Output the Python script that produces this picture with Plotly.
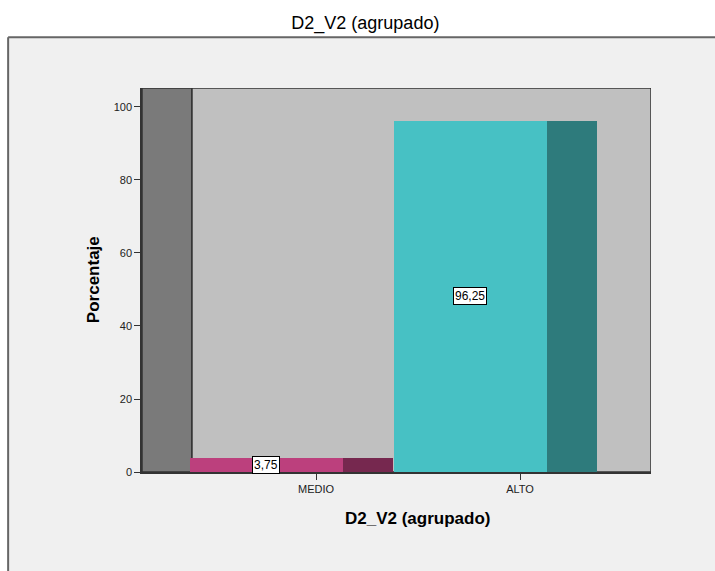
import plotly.graph_objects as go

# data
categories = ["MEDIO", "ALTO"]
percent = [3.75, 96.25]
labels = ["3,75", "96,25"]
front_colors = ["#bc407d", "#47c1c4"]
side_colors = ["#76284f", "#2e7b7c"]

# pseudo-3d geometry (in category units)
depth = 0.245
front_w = 0.752
front_start = -0.62
x_min, x_max = -0.853, 1.642
y_max = 105.2

xs = list(range(len(categories)))
front_x = [i + front_start + front_w / 2 for i in xs]
side_x = [i + front_start + front_w + depth / 2 for i in xs]

fig = go.Figure()
fig.add_trace(go.Bar(x=front_x, y=percent, width=front_w,
                     marker=dict(color=front_colors, line_width=0),
                     hoverinfo="skip", showlegend=False))
fig.add_trace(go.Bar(x=side_x, y=percent, width=depth,
                     marker=dict(color=side_colors, line_width=0),
                     hoverinfo="skip", showlegend=False))

# grey panel behind the chart (only top and left borders are visible)
px0, py1 = -0.263, 1.132
fig.add_shape(type="rect", xref="paper", yref="paper",
              x0=px0, x1=1.2, y0=-0.3, y1=py1,
              fillcolor="#f0f0f0", line_width=0, layer="below")
fig.add_shape(type="line", xref="paper", yref="paper", x0=px0, x1=1.2, y0=py1, y1=py1,
              line=dict(color="#666666", width=2), layer="below")
fig.add_shape(type="line", xref="paper", yref="paper", x0=px0, x1=px0, y0=-0.3, y1=py1,
              line=dict(color="#666666", width=2), layer="below")
# side wall and back wall
fig.add_shape(type="rect", xref="x", yref="y", x0=x_min, x1=x_min + depth, y0=0, y1=y_max,
              fillcolor="#7a7a7a", line=dict(color="#333333", width=1.5), layer="below")
fig.add_shape(type="rect", xref="x", yref="y", x0=x_min + depth, x1=x_max, y0=0, y1=y_max,
              fillcolor="#c0c0c0", line=dict(color="#333333", width=1.5), layer="below")

for fx, v, t in zip(front_x, percent, labels):
    fig.add_annotation(x=fx, y=v / 2, text=t, showarrow=False,
                       font=dict(size=12, color="#000000", family="Liberation Sans"),
                       bgcolor="white", bordercolor="#000000", borderwidth=1, borderpad=1)

fig.add_annotation(xref="paper", yref="paper", x=0.542, y=-0.12, xanchor="center", yanchor="middle",
                   text="<b>D2_V2 (agrupado)</b>", showarrow=False,
                   font=dict(size=17, color="#000000", family="Liberation Sans"))
fig.add_annotation(xref="paper", yref="paper", x=-0.096, y=0.5, xanchor="center", yanchor="middle",
                   text="<b>Porcentaje</b>", textangle=-90, showarrow=False,
                   font=dict(size=17, color="#000000", family="Liberation Sans"))

fig.update_layout(
    width=715, height=571,
    margin=dict(l=142, r=64, t=88, b=99),
    paper_bgcolor="white", plot_bgcolor="rgba(0,0,0,0)",
    barmode="overlay", bargap=0,
    title=dict(text="D2_V2 (agrupado)", x=0.511, xanchor="center", y=0.961, yanchor="middle",
               font=dict(size=18, color="#000000", family="Liberation Sans")),
    font=dict(family="Liberation Sans", size=11, color="#222222"),
)
fig.update_xaxes(range=[x_min, x_max], tickvals=xs, ticktext=categories,
                 showgrid=False, zeroline=False, showline=True, linecolor="#333333", linewidth=1.5,
                 ticks="outside", ticklen=6, tickcolor="#333333", tickfont=dict(size=11))
fig.update_yaxes(range=[0, y_max], tickvals=[0, 20, 40, 60, 80, 100],
                 showgrid=False, zeroline=False, showline=True, linecolor="#333333", linewidth=1.5,
                 ticks="outside", ticklen=6, tickcolor="#333333", tickfont=dict(size=11))

fig.write_html("out.html", config={"displayModeBar": False},
               post_script="document.body.style.margin='0';")
